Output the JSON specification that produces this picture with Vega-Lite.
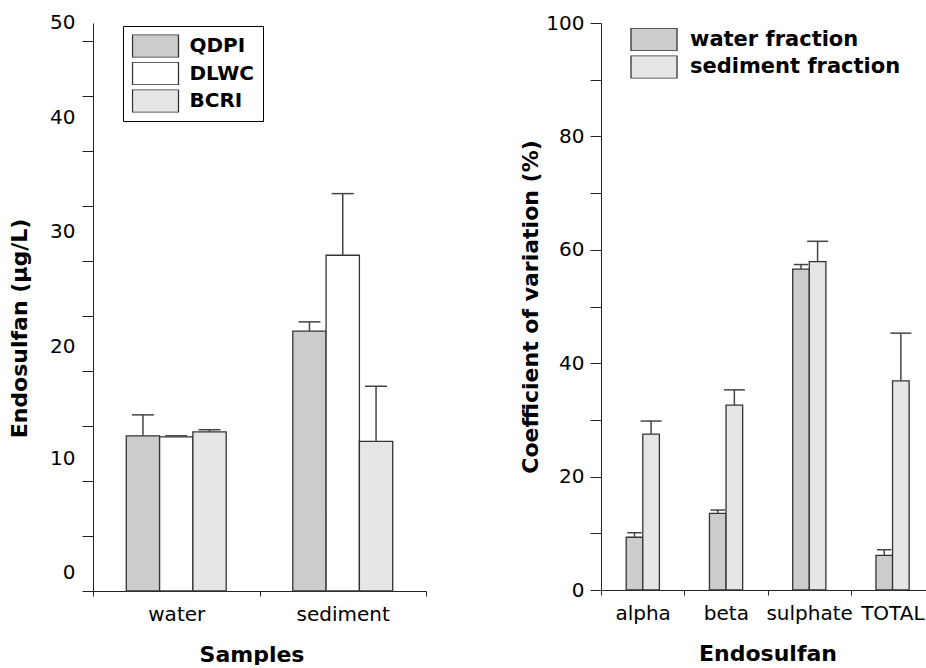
{
  "$schema": "https://vega.github.io/schema/vega-lite/v6.json",
  "background": "white",
  "padding": {"left": 8, "top": 12, "right": 0, "bottom": 0},
  "bounds": "flush",
  "spacing": 175,
  "datasets": {
    "conc": [
      {"sample": "water", "lab": "QDPI", "value": 14.1, "err_hi": 16.0},
      {"sample": "water", "lab": "DLWC", "value": 14.0, "err_hi": 14.1},
      {"sample": "water", "lab": "BCRI", "value": 14.45, "err_hi": 14.65},
      {"sample": "sediment", "lab": "QDPI", "value": 23.6, "err_hi": 24.45},
      {"sample": "sediment", "lab": "DLWC", "value": 30.5, "err_hi": 36.1},
      {"sample": "sediment", "lab": "BCRI", "value": 13.6, "err_hi": 18.6}
    ],
    "cv": [
      {"compound": "alpha", "fraction": "water fraction", "cv": 9.3, "err_hi": 10.1},
      {"compound": "alpha", "fraction": "sediment fraction", "cv": 27.5, "err_hi": 29.8},
      {"compound": "beta", "fraction": "water fraction", "cv": 13.5, "err_hi": 14.1},
      {"compound": "beta", "fraction": "sediment fraction", "cv": 32.6, "err_hi": 35.3},
      {"compound": "sulphate", "fraction": "water fraction", "cv": 56.6, "err_hi": 57.4},
      {"compound": "sulphate", "fraction": "sediment fraction", "cv": 57.9, "err_hi": 61.5},
      {"compound": "TOTAL", "fraction": "water fraction", "cv": 6.1, "err_hi": 7.1},
      {"compound": "TOTAL", "fraction": "sediment fraction", "cv": 36.9, "err_hi": 45.3}
    ]
  },
  "config": {
    "view": {"stroke": null},
    "axis": {
      "labelFont": "DejaVu Sans", "labelFontSize": 20, "labelColor": "black",
      "titleFont": "DejaVu Sans", "titleFontSize": 22, "titleFontWeight": "bold", "titleColor": "black",
      "domainColor": "#222", "tickColor": "#222", "grid": false
    },
    "legend": {
      "labelFont": "DejaVu Sans", "labelFontWeight": "bold", "labelFontSize": 21, "labelColor": "black",
      "labelLimit": 400,
      "symbolType": "M-1,-0.5H1V0.5H-1Z", "symbolSize": 2116, "symbolStrokeColor": "#333", "symbolStrokeWidth": 1.3,
      "symbolOpacity": 1, "clipHeight": 23, "rowPadding": 4.5
    }
  },
  "resolve": {
    "scale": {"color": "independent", "x": "independent", "xOffset": "independent", "y": "independent"},
    "legend": {"color": "independent"}
  },
  "hconcat": [
    {
      "width": 333, "height": 568,
      "data": {"name": "conc"},
      "encoding": {
        "x": {"field": "sample", "type": "nominal", "sort": ["water", "sediment"],
          "scale": {"paddingInner": 0, "paddingOuter": 0},
          "axis": {"title": "Samples", "labelAngle": 0, "tickBand": "extent", "tickSize": 5, "labelPadding": 8, "titlePadding": 20, "titleX": 158.5}},
        "xOffset": {"field": "lab", "type": "nominal", "sort": ["QDPI", "DLWC", "BCRI"], "scale": {"domain": ["QDPI", "DLWC", "BCRI"], "paddingInner": 0, "paddingOuter": 1}}
      },
      "layer": [
        {
          "mark": {"type": "bar", "stroke": "#333", "strokeWidth": 1.3},
          "encoding": {
            "y": {"field": "value", "type": "quantitative", "stack": null,
              "scale": {"domain": [0, 51.6], "nice": false},
              "axis": {"title": "Endosulfan (µg/L)", "values": [0, 5, 10, 15, 20, 25, 30, 35, 40, 45, 50],
                "labelExpr": "datum.value % 10 == 0 ? datum.label : ''",
                "tickSize": 11, "labelPadding": 7, "titlePadding": 18, "titleY": 305,
                "labelOffset": {"condition": [
                  {"test": "datum.value == 50", "value": -18},
                  {"test": "datum.value == 40", "value": -33},
                  {"test": "datum.value == 30", "value": -29},
                  {"test": "datum.value == 20", "value": -24},
                  {"test": "datum.value == 10", "value": -22}
                ], "value": -19}}},
            "color": {"field": "lab", "type": "nominal", "sort": ["QDPI", "DLWC", "BCRI"],
              "scale": {"domain": ["QDPI", "DLWC", "BCRI"], "range": ["#cccccc", "#ffffff", "#e6e6e6"]},
              "legend": {"title": null, "orient": "none", "legendX": 30, "legendY": 3,
                "fillColor": "white", "strokeColor": "black", "padding": 8.5, "labelOffset": 10, "labelFontSize": 20}}
          }
        },
        {
          "mark": {"type": "rule", "color": "#444", "strokeWidth": 1.5},
          "encoding": {"y": {"field": "value", "type": "quantitative"}, "y2": {"field": "err_hi"}}
        },
        {
          "mark": {"type": "tick", "orient": "horizontal", "size": 22, "thickness": 1.5, "color": "#444", "opacity": 1},
          "encoding": {"y": {"field": "err_hi", "type": "quantitative"}}
        }
      ]
    },
    {
      "width": 333, "height": 567,
      "data": {"name": "cv"},
      "encoding": {
        "x": {"field": "compound", "type": "nominal", "sort": ["alpha", "beta", "sulphate", "TOTAL"],
          "scale": {"paddingInner": 0, "paddingOuter": 0},
          "axis": {"title": "Endosulfan", "labelAngle": 0, "tickBand": "extent", "tickSize": 5, "labelPadding": 8, "titlePadding": 20}},
        "xOffset": {"field": "fraction", "type": "nominal", "sort": ["water fraction", "sediment fraction"], "scale": {"domain": ["water fraction", "sediment fraction"], "range": [25.2, 58.4], "paddingInner": 0, "paddingOuter": 0}}
      },
      "layer": [
        {
          "mark": {"type": "bar", "stroke": "#333", "strokeWidth": 1.3},
          "encoding": {
            "y": {"field": "cv", "type": "quantitative", "stack": null,
              "scale": {"domain": [0, 100], "nice": false},
              "axis": {"title": "Coefficient of variation (%)", "values": [0, 10, 20, 30, 40, 50, 60, 70, 80, 90, 100],
                "labelExpr": "datum.value % 20 == 0 ? datum.label : ''",
                "tickSize": 11, "labelPadding": 6, "titlePadding": 3}},
            "color": {"field": "fraction", "type": "nominal",
              "scale": {"domain": ["water fraction", "sediment fraction"], "range": ["#cccccc", "#e6e6e6"]},
              "legend": {"title": null, "orient": "none", "legendX": 29, "legendY": 5,
                "padding": 0, "labelOffset": 12}}
          }
        },
        {
          "mark": {"type": "rule", "color": "#444", "strokeWidth": 1.5},
          "encoding": {"y": {"field": "cv", "type": "quantitative"}, "y2": {"field": "err_hi"}}
        },
        {
          "transform": [{"filter": "datum.fraction == 'water fraction'"}],
          "mark": {"type": "tick", "orient": "horizontal", "size": 14.5, "thickness": 1.5, "color": "#444", "opacity": 1},
          "encoding": {"y": {"field": "err_hi", "type": "quantitative"}}
        },
        {
          "transform": [{"filter": "datum.fraction == 'sediment fraction'"}],
          "mark": {"type": "tick", "orient": "horizontal", "size": 21, "thickness": 1.5, "color": "#444", "opacity": 1},
          "encoding": {"y": {"field": "err_hi", "type": "quantitative"}}
        }
      ]
    }
  ]
}
